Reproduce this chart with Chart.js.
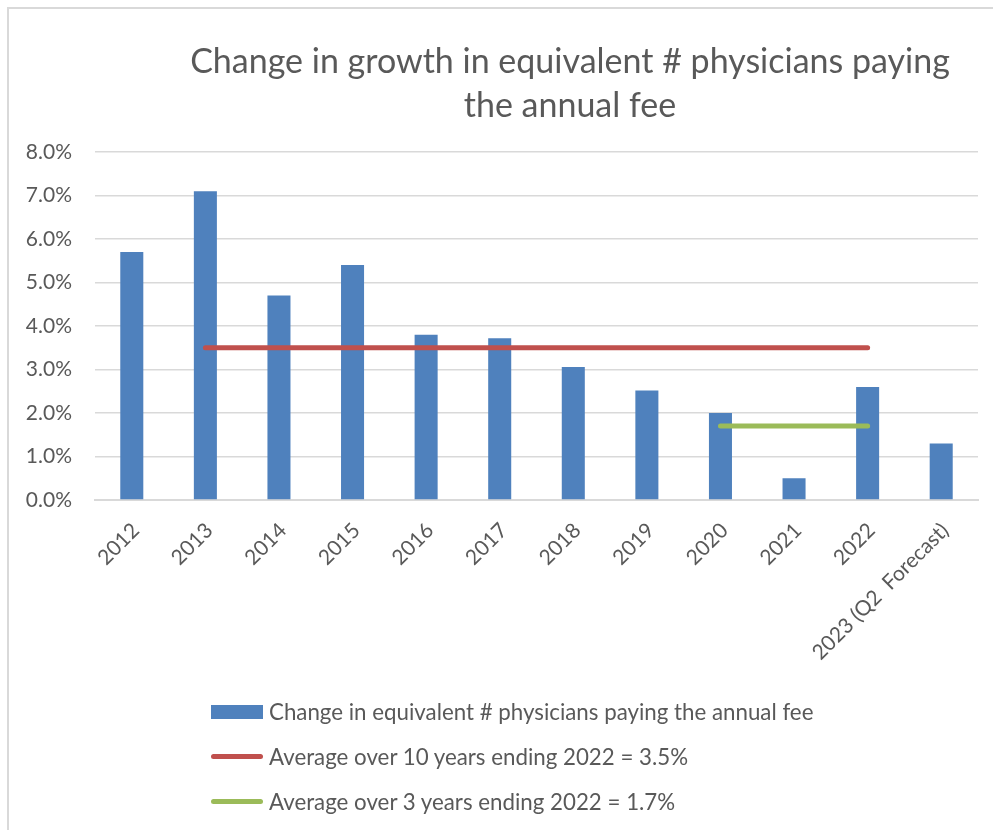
<!DOCTYPE html>
<html>
<head>
<meta charset="utf-8">
<title>Change in growth in equivalent # physicians paying the annual fee</title>
<script src="https://cdn.jsdelivr.net/npm/chart.js@4"></script>
<style>
  html, body { margin: 0; padding: 0; background: #fff; overflow: hidden; }
  body { width: 993px; height: 830px; position: relative; font-family: Lato, "Open Sans", sans-serif; color: #595959; }
  .frame { position: absolute; left: 7px; top: 7px; width: 1000px; height: 900px; border-left: 2px solid #d9d9d9; border-top: 2px solid #d9d9d9; }
  #chart { position: absolute; left: 0; top: 0; }
  .title { position: absolute; left: 170px; width: 800px; top: 38px; text-align: center; font-size: 34px; line-height: 44px; }
  #legend { position: absolute; left: 211px; top: 689px; font-size: 22.3px; }
  .legend-item { display: flex; align-items: center; height: 45px; }
  .swatch { width: 52px; margin-right: 6px; }
</style>
</head>
<body>
<div class="frame"></div>
<canvas id="chart" width="993" height="690"></canvas>
<div class="title">Change in growth in equivalent # physicians paying<br>the annual fee</div>
<div id="legend"></div>

<script>
// categories (years) and series, values in %
const years = ["2012", "2013", "2014", "2015", "2016", "2017", "2018", "2019", "2020", "2021", "2022", "2023 (Q2  Forecast)"];
const growthPct = [5.7, 7.1, 4.7, 5.4, 3.8, 3.72, 3.06, 2.52, 2.0, 0.5, 2.6, 1.3];
const avg10yr = [null, 3.5, 3.5, 3.5, 3.5, 3.5, 3.5, 3.5, 3.5, 3.5, 3.5, null];
const avg3yr = [null, null, null, null, null, null, null, null, 1.7, 1.7, 1.7, null];
const seriesNames = [
  "Change in equivalent # physicians paying the annual fee",
  "Average over 10 years ending 2022 = 3.5%",
  "Average over 3 years ending 2022 = 1.7%"
];
const yTicks = [0, 1, 2, 3, 4, 5, 6, 7, 8];

const BLUE = "#4f81bd", RED = "#c0504d", GREEN = "#9bbb59";
const GRID = "#d9d9d9", TEXT = "#595959";

const chart = new Chart(document.getElementById("chart"), {
  type: "bar",
  data: {
    labels: years,
    datasets: [
      { type: "bar", label: seriesNames[0], data: growthPct, backgroundColor: BLUE,
        categoryPercentage: 1, barPercentage: 0.313, order: 2 },
      { type: "line", label: seriesNames[1], data: avg10yr, borderColor: RED, backgroundColor: RED,
        borderWidth: 5, borderCapStyle: "round", pointRadius: 0, spanGaps: false, order: 1 },
      { type: "line", label: seriesNames[2], data: avg3yr, borderColor: GREEN, backgroundColor: GREEN,
        borderWidth: 5, borderCapStyle: "round", pointRadius: 0, spanGaps: false, order: 0 }
    ]
  },
  options: {
    responsive: false,
    animation: false,
    layout: { padding: { top: 152, right: 15, left: 0, bottom: 0 } },
    plugins: {
      legend: { display: false },
      title: { display: false },
      tooltip: { enabled: false }
    },
    scales: {
      x: {
        grid: { display: false, drawTicks: false },
        border: { display: true, color: GRID, width: 2 },
        ticks: {
          color: TEXT, font: { family: "Lato", size: 21 },
          minRotation: 45, maxRotation: 45, autoSkip: false, padding: 18, labelOffset: 4
        },
        afterFit: axis => { axis.height = 190; }
      },
      y: {
        min: 0, max: 8,
        afterBuildTicks: axis => { axis.ticks = yTicks.map(v => ({ value: v })); },
        grid: { color: GRID, lineWidth: 1.5, drawTicks: false },
        border: { display: false },
        ticks: {
          color: TEXT, font: { family: "Lato", size: 21 }, padding: 23,
          callback: v => v.toFixed(1) + "%"
        },
        afterFit: axis => { axis.width = 95; }
      }
    }
  }
});

// legend drawn under the chart, one series per row
const legend = document.getElementById("legend");
chart.data.datasets.forEach(ds => {
  const item = document.createElement("div");
  item.className = "legend-item";
  const sw = document.createElement("div");
  sw.className = "swatch";
  if (ds.type === "bar") {
    sw.style.height = "14px";
    sw.style.background = ds.backgroundColor;
  } else {
    sw.style.height = "5px";
    sw.style.borderRadius = "3px";
    sw.style.background = ds.borderColor;
  }
  const txt = document.createElement("span");
  txt.textContent = ds.label;
  item.appendChild(sw);
  item.appendChild(txt);
  legend.appendChild(item);
});
</script>
</body>
</html>
